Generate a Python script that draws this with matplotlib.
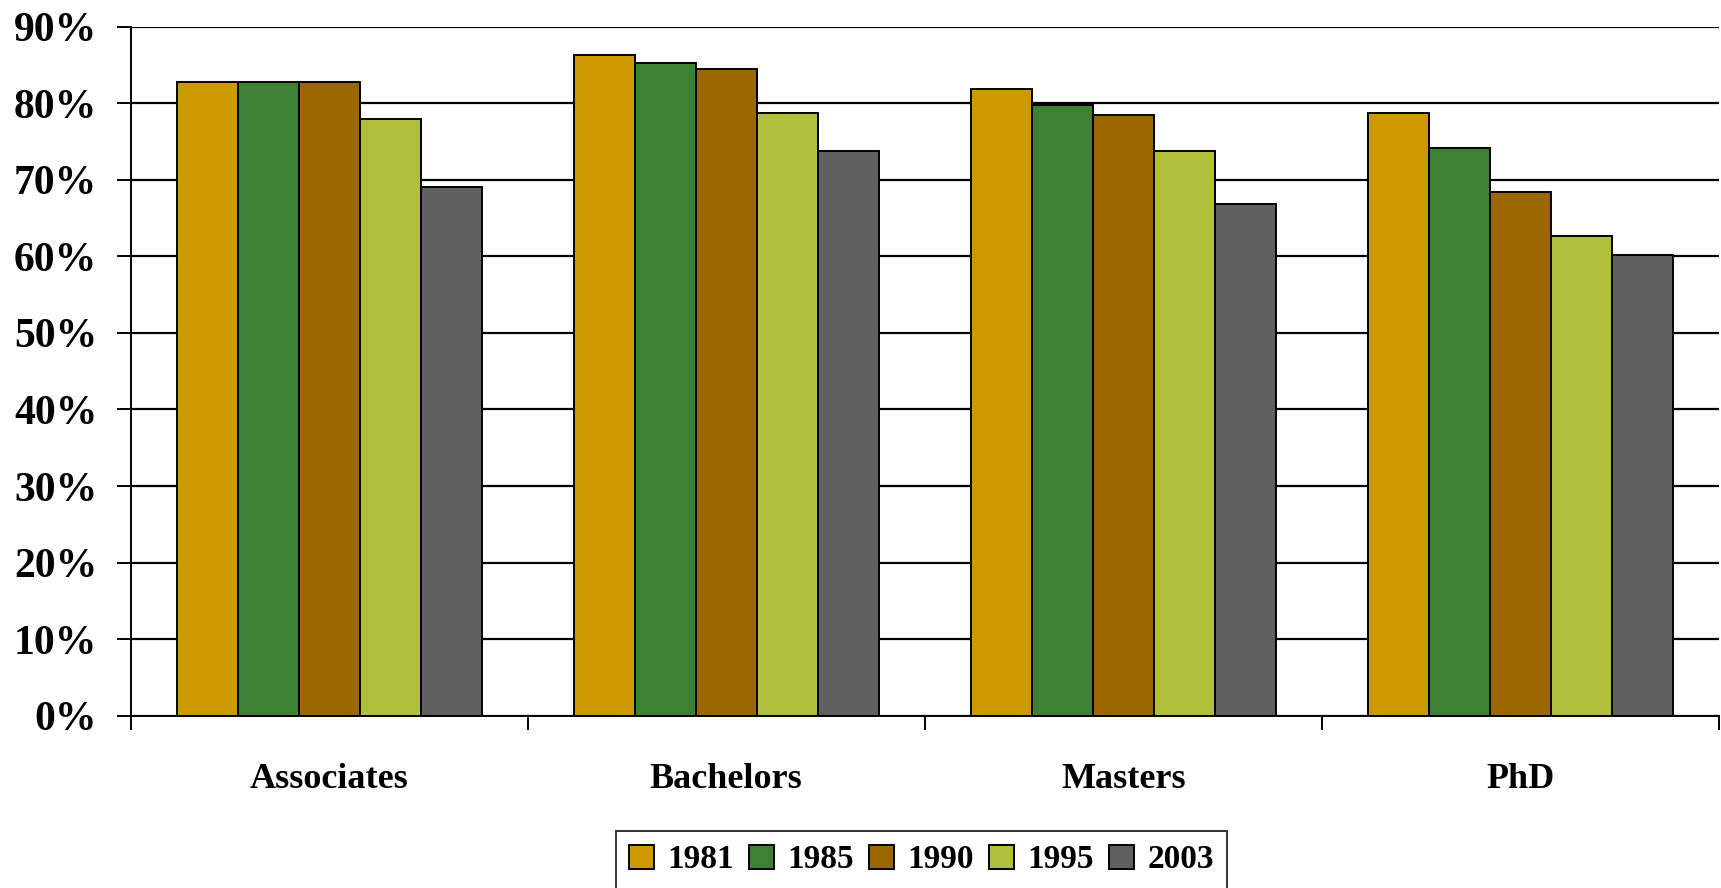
import matplotlib
matplotlib.use("Agg")
import matplotlib.pyplot as plt
import numpy as np
from matplotlib.patches import Patch
from matplotlib.ticker import FuncFormatter

categories = ["Associates", "Bachelors", "Masters", "PhD"]
years = ["1981", "1985", "1990", "1995", "2003"]
v1981 = [82.8, 86.3, 81.9, 78.7]
v1985 = [82.8, 85.3, 79.8, 74.1]
v1990 = [82.8, 84.5, 78.5, 68.4]
v1995 = [78.0, 78.7, 73.8, 62.6]
v2003 = [69.1, 73.8, 66.8, 60.2]
series = [v1981, v1985, v1990, v1995, v2003]
colors = ["#CC9900", "#3C8031", "#996600", "#B0BF3C", "#606060"]

plt.rcParams['font.family'] = ['Liberation Serif', 'DejaVu Serif']
plt.rcParams['font.weight'] = 'bold'

fig = plt.figure(figsize=(17.21, 8.88), dpi=100)
ax = fig.add_axes([130.6/1721, 1-715.7/888, (1719-130.6)/1721, (715.7-26.7)/888])

n = len(series)
bw = 0.1536
x = np.arange(len(categories))
for i, (vals, c, yr) in enumerate(zip(series, colors, years)):
    ax.bar(x + (i - (n-1)/2)*bw, vals, width=bw, color=c, edgecolor='black',
           linewidth=1.4, zorder=3, label=yr)

ax.set_ylim(0, 90)
ax.set_xlim(-0.5, len(categories)-0.5)
ax.set_yticks(np.arange(0, 91, 10))
ax.yaxis.set_major_formatter(FuncFormatter(lambda v, p: f"{int(v)}%"))
ax.yaxis.grid(True, color='black', linewidth=1.6, zorder=0)
ax.set_axisbelow(True)

ax.set_xticks(np.arange(-0.5, len(categories), 1.0))
ax.set_xticklabels([])
ax.set_xticks(x, minor=True)
ax.set_xticklabels(categories, minor=True, fontsize=26, fontweight='bold')
ax.tick_params(axis='x', which='minor', length=0, pad=34)
ax.tick_params(axis='x', which='major', length=10, width=1.4, direction='out')
ax.tick_params(axis='y', which='major', length=10, width=1.4, direction='out',
               labelsize=30, pad=14)
for lab in ax.get_yticklabels():
    lab.set_fontweight('bold')

for s in ['top', 'right']:
    ax.spines[s].set_visible(False)
for s in ['left', 'bottom']:
    ax.spines[s].set_linewidth(1.4)
    ax.spines[s].set_color('black')

handles = [Patch(facecolor=c, edgecolor='black', linewidth=1.4, label=yr)
           for c, yr in zip(colors, years)]
leg = fig.legend(handles=handles, loc='upper left', bbox_to_anchor=(616/1721, 1-831/888),
                 ncol=5, frameon=True, fancybox=False, edgecolor='black',
                 prop={'family': 'Liberation Serif', 'weight': 'bold', 'size': 24},
                 handlelength=0.75, handleheight=0.75, handletextpad=0.4,
                 columnspacing=0.45, borderpad=0.4, borderaxespad=0)
leg.get_frame().set_linewidth(1.4)

fig.savefig("out.png", dpi=100)
